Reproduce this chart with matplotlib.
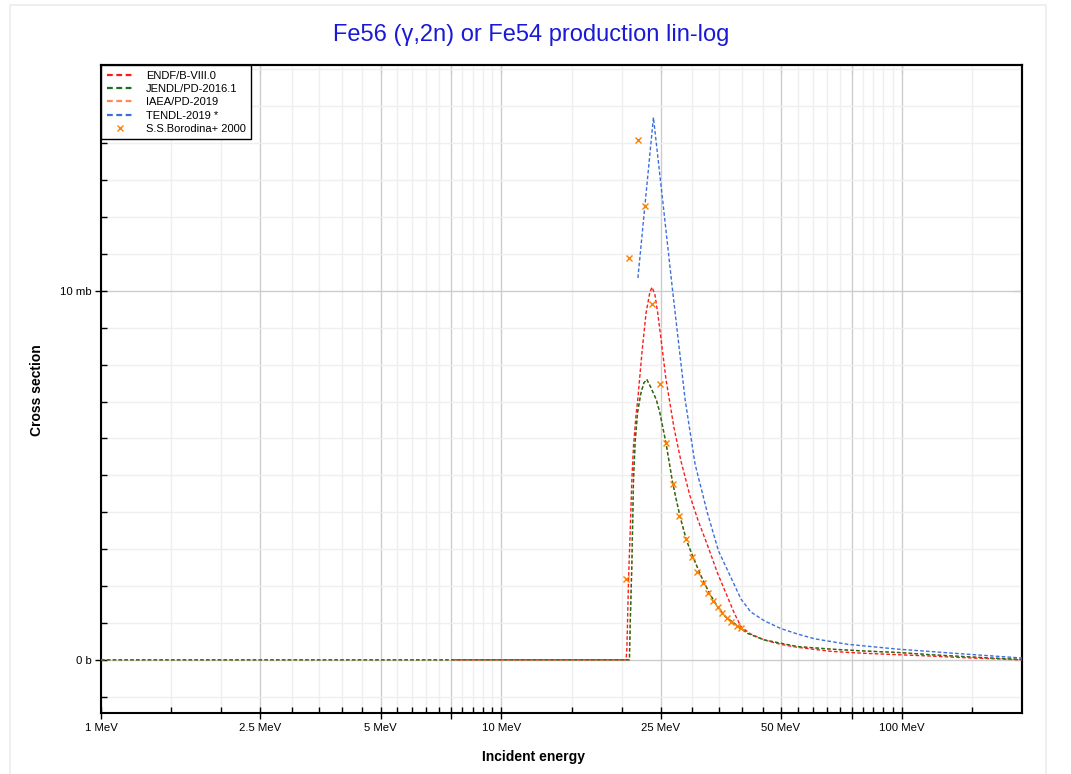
import matplotlib

matplotlib.use("Agg")
from matplotlib import pyplot as plt
from matplotlib.patches import Rectangle
from matplotlib.ticker import FixedFormatter, FixedLocator, NullFormatter

# energies in MeV, cross sections in mb
ENDF_E = [7.6, 20.5, 20.6, 20.8, 21.0, 21.2, 21.4, 21.7, 21.95, 22.2, 22.5, 23.0, 23.5, 23.8,
          24.2, 24.6, 25.0, 25.8, 27.0, 28.1, 29.6, 31.0, 32.9, 34.7, 36.7, 38.2, 39.7, 42.0,
          45.4, 49.9, 55.0, 66.8, 80.0, 98.0, 120.0, 143.0, 170.0, 200.0]
ENDF_XS = [0.0, 0.0, 0.3, 2.2, 3.5, 4.9, 5.8, 6.6, 7.1, 7.7, 8.4, 9.4, 9.95, 10.1,
           9.9, 9.4, 8.8, 7.6, 6.3, 5.4, 4.45, 3.79, 3.05, 2.35, 1.72, 1.27, 0.9, 0.7,
           0.54, 0.42, 0.34, 0.23, 0.18, 0.14, 0.1, 0.06, 0.03, 0.0]

JENDL_E = [1.0, 20.9, 21.0, 21.2, 21.4, 21.6, 21.9, 22.3, 22.7, 23.1, 23.6, 24.4, 24.9,
           25.8, 26.8, 27.9, 29.0, 30.1, 31.6, 33.1, 34.7, 36.3, 38.2, 41.2, 45.4, 55.0,
           66.8, 80.8, 98.0, 118.0, 160.0, 200.0]
JENDL_XS = [0.0, 0.0, 1.0, 2.6, 4.9, 5.9, 6.7, 7.2, 7.5, 7.6, 7.4, 7.05, 6.7,
            5.87, 4.8, 3.93, 3.25, 2.8, 2.26, 1.81, 1.44, 1.17, 0.99, 0.72, 0.54, 0.36,
            0.29, 0.24, 0.2, 0.14, 0.06, 0.01]

IAEA_E = [1.0, 20.9, 21.0, 21.2, 21.4, 21.6, 21.9, 22.3, 22.7, 23.1, 23.6, 24.4, 24.9,
          25.8, 26.8, 27.9, 29.0, 30.1, 31.6, 33.1, 34.7, 36.3, 38.2, 41.2, 45.4, 55.0,
          66.8, 80.8, 98.0, 118.0, 160.0, 200.0]
IAEA_XS = [0.0, 0.0, 1.0, 2.6, 4.9, 5.9, 6.7, 7.2, 7.5, 7.6, 7.4, 7.05, 6.7,
           5.87, 4.8, 3.93, 3.25, 2.8, 2.26, 1.81, 1.44, 1.17, 0.99, 0.72, 0.54, 0.36,
           0.29, 0.24, 0.2, 0.14, 0.06, 0.01]

TENDL_E = [21.95, 24.0, 25.4, 26.8, 28.8, 30.5, 32.7, 34.9, 37.6, 39.7, 42.0, 45.4, 49.9,
           55.0, 60.7, 73.5, 98.0, 143.0, 200.0]
TENDL_XS = [10.35, 14.7, 12.3, 10.0, 7.05, 5.3, 4.0, 2.95, 2.2, 1.65, 1.3, 1.06, 0.85,
            0.7, 0.57, 0.42, 0.29, 0.16, 0.05]

EXP_E = [20.5, 20.8, 21.9, 22.9, 23.8, 24.9, 25.8, 26.8, 27.8, 28.9, 29.9, 30.9, 31.9,
         32.9, 33.8, 34.7, 35.7, 36.7, 37.6, 38.8, 39.8]
EXP_XS = [2.2, 10.9, 14.1, 12.3, 9.64, 7.47, 5.89, 4.76, 3.91, 3.27, 2.78, 2.39, 2.08,
          1.82, 1.60, 1.42, 1.26, 1.13, 1.02, 0.92, 0.86]

X_MAJOR = [1, 2.5, 5, 7.5, 10, 25, 50, 75, 100]
X_MAJOR_LABELS = ["1 MeV", "2.5 MeV", "5 MeV", "", "10 MeV", "25 MeV", "50 MeV", "", "100 MeV"]
X_MINOR = [1.5, 2, 3, 3.5, 4, 4.5, 5.5, 6, 6.5, 7, 8, 8.5, 9, 9.5, 15, 20, 30, 35, 40, 45,
           55, 60, 65, 70, 80, 85, 90, 95, 150]
Y_MAJOR = [0, 10]
Y_MAJOR_LABELS = ["0 b", "10 mb"]
Y_MINOR = [-1, 1, 2, 3, 4, 5, 6, 7, 8, 9, 11, 12, 13, 14, 15, 16]

SERIES = [
    ("ENDF/B-VIII.0", ENDF_E, ENDF_XS, "#ff1a1a"),
    ("JENDL/PD-2016.1", JENDL_E, JENDL_XS, "#1e6e1e"),
    ("IAEA/PD-2019", IAEA_E, IAEA_XS, "#ff8a4c"),
    ("TENDL-2019 *", TENDL_E, TENDL_XS, "#3c6ee0"),
]
DRAW_ORDER = ["ENDF/B-VIII.0", "IAEA/PD-2019", "JENDL/PD-2016.1", "TENDL-2019 *"]


def main():
    plt.rcParams.update({
        "font.family": ["Liberation Sans", "DejaVu Sans"],
        "font.size": 8,
    })
    fig = plt.figure(figsize=(10.71, 7.74), dpi=100)
    W, H = 1071, 774
    ax = fig.add_axes([101 / W, 1 - 713 / H, (1022 - 101) / W, (713 - 65) / H])

    # faint frame around the whole plot area
    fig.add_artist(Rectangle((10 / W, -0.02), 1036 / W, 1.02 - 5 / H, transform=fig.transFigure,
                             fill=False, edgecolor="#ececec", linewidth=1.2))

    handles = {}
    for label, energies, values, color in SERIES:
        (line,) = ax.plot(energies, values, color=color, linewidth=1.0, dashes=(2.6, 1.6),
                          label=label, zorder=3 + DRAW_ORDER.index(label))
        handles[label] = line
    exp = ax.plot(EXP_E, EXP_XS, linestyle="none", marker="x", markersize=4, mew=1.0,
                  color="#ff8000", label="S.S.Borodina+ 2000", zorder=8)[0]

    ax.set_xscale("log")
    ax.set_xlim(1, 200)
    ax.set_ylim(-1.44, 16.12)

    ax.xaxis.set_major_locator(FixedLocator(X_MAJOR))
    ax.xaxis.set_major_formatter(FixedFormatter(X_MAJOR_LABELS))
    ax.xaxis.set_minor_locator(FixedLocator(X_MINOR))
    ax.xaxis.set_minor_formatter(NullFormatter())
    ax.yaxis.set_major_locator(FixedLocator(Y_MAJOR))
    ax.yaxis.set_major_formatter(FixedFormatter(Y_MAJOR_LABELS))
    ax.yaxis.set_minor_locator(FixedLocator(Y_MINOR))

    ax.grid(which="major", color="#cccccc", linewidth=1.0, zorder=0)
    ax.grid(which="minor", color="#efefef", linewidth=1.0, zorder=0)
    ax.set_axisbelow(True)

    ax.tick_params(which="major", direction="inout", length=8, width=1.0, labelsize=8.2, pad=3)
    ax.tick_params(which="minor", direction="in", length=4, width=1.0)
    for side in ax.spines.values():
        side.set_linewidth(1.5)
        side.set_color("black")

    top = ax.secondary_xaxis("top")
    top.set_xticks(X_MAJOR)
    top.xaxis.set_minor_locator(FixedLocator(X_MINOR))
    top.tick_params(which="both", direction="in", labeltop=False, color="#777777")
    top.tick_params(which="major", length=6)
    top.tick_params(which="minor", length=4)
    top.spines["top"].set_linewidth(1.5)
    right = ax.secondary_yaxis("right")
    right.set_yticks(Y_MAJOR)
    right.yaxis.set_minor_locator(FixedLocator(Y_MINOR))
    right.tick_params(which="both", direction="in", labelright=False, color="#777777")
    right.tick_params(which="major", length=6)
    right.tick_params(which="minor", length=4)
    right.spines["right"].set_linewidth(1.5)

    leg = ax.legend([handles[s[0]] for s in SERIES] + [exp],
                    [s[0] for s in SERIES] + ["S.S.Borodina+ 2000"],
                    loc="upper left", bbox_to_anchor=(0, 1), borderaxespad=0, fontsize=8,
                    frameon=True, fancybox=False, edgecolor="black", framealpha=1,
                    handlelength=2.4, handletextpad=1.15, labelspacing=0.3, borderpad=0.5)
    leg.get_frame().set_linewidth(1.0)
    leg.set_zorder(20)
    for line in leg.get_lines():
        line.set_linewidth(1.6)

    fig.text(531 / W, 1 - 35 / H, "Fe56 (\u03b3,2n) or Fe54 production lin-log", ha="center",
             va="center", fontsize=17, color="#1a1ad6")
    fig.text(533 / W, 1 - 757 / H, "Incident energy", ha="center", va="center",
             fontsize=10, fontweight="bold")
    fig.text(37 / W, 1 - 390 / H, "Cross section", ha="center", va="center", rotation=90,
             fontsize=10, fontweight="bold")

    fig.savefig("out.png", dpi=100, facecolor="white")
    plt.close(fig)


if __name__ == "__main__":
    main()
